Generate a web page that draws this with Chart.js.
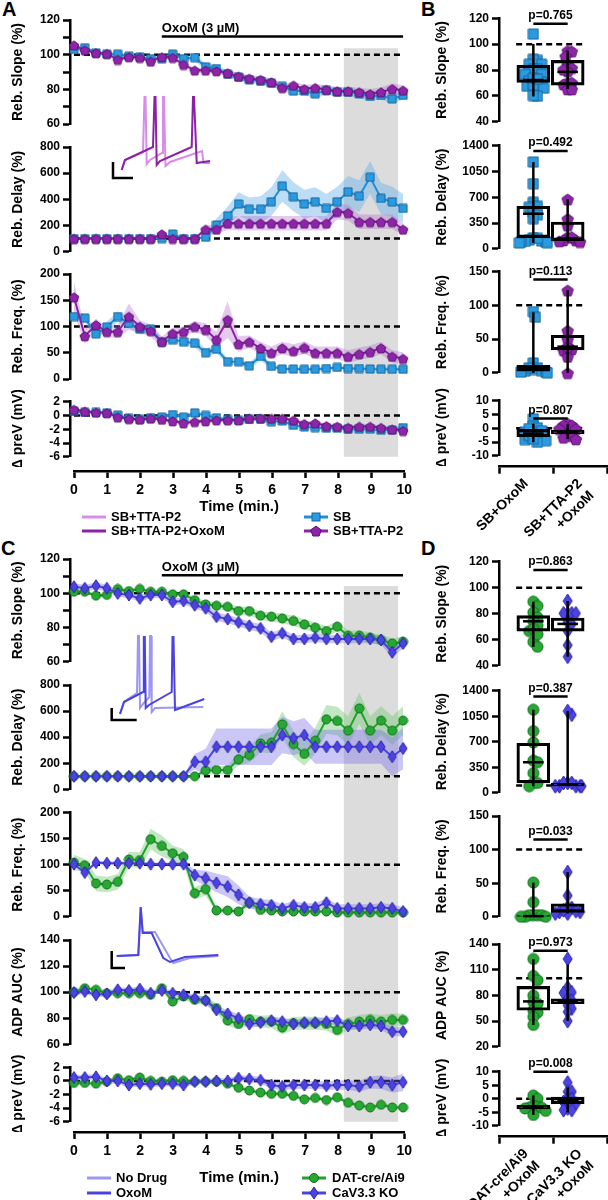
<!DOCTYPE html>
<html>
<head>
<meta charset="utf-8">
<script src="https://cdn.jsdelivr.net/npm/chart.js@4.4.1/dist/chart.umd.min.js"></script>
<style>
  html, body { margin: 0; padding: 0; background: #fff; }
  body { position: relative; width: 608px; height: 1200px; overflow: hidden;
         font-family: "Liberation Sans", Arial, sans-serif; font-weight: bold; color: #000; }
  canvas { position: absolute; }
  .tag { position: absolute; font-size: 20px; line-height: 20px; }
  .leg { position: absolute; font-size: 13px; line-height: 16px; white-space: nowrap; }
</style>
</head>
<body>
<div class="tag" style="left:2px;top:-1px">A</div>
<div class="tag" style="left:421px;top:-1px">B</div>
<div class="tag" style="left:1px;top:538px">C</div>
<div class="tag" style="left:421px;top:538px">D</div>
<script>
// time points (min)
const timeMin = [0,0.33,0.67,1,1.33,1.67,2,2.33,2.67,3,3.33,3.67,4,4.33,4.67,5,5.33,5.67,6,6.33,6.67,7,7.33,7.67,8,8.33,8.67,9,9.33,9.67,10];
const shadeRange = [8.2, 9.85];
const oxoStart = 2.67;

// panel A: SB vs SB+TTA-P2
const slopeSB = [103,104,101,100.3,100.3,99.1,98.7,97.7,97.7,100.3,97.7,98.3,93,92,88.7,87.1,85.6,84.8,83.6,81.7,79,79,77.4,79.4,78.4,78.4,77.4,75.9,76.5,74.5,76.5];
const slopeSBsem = [1.5,1.5,1.2,1.2,1.2,1.2,1.3,1.3,1.3,1.5,1.5,1.8,2,2,2,2,2,2.2,2.2,2.2,2.3,2.3,2.5,2.5,2.5,2.5,2.5,2.5,2.5,2.5,2.5];
const slopeTTA = [105.5,102.6,101,100.6,97.2,98.7,98.3,96.2,98.7,98.3,94.3,91,91,90.6,89.4,87.5,86.3,85.6,84.2,80.9,82.3,80.3,80.9,79.8,79,79,78.4,77.4,78.4,80.3,79.4];
const slopeTTAsem = [1.5,1.2,1,1,1.2,1.2,1.2,1.3,1.3,1.3,1.5,1.5,1.5,1.8,1.8,2,2,2,2,2.2,2.2,2.3,2.3,2.5,2.5,2.5,2.5,2.8,2.8,3,3];
const delaySB = [100,100,100,100,100,100,100,100,100,135,100,100,110,204,273,364,324,324,382,502,420,364,382,331,382,458,425,568,407,382,331];
const delaySBsem = [3,3,3,3,3,3,3,3,3,15,5,5,15,50,70,90,90,100,110,120,110,110,110,110,115,120,120,125,120,115,110];
const delayTTA = [100,100,100,100,100,100,100,100,135,100,100,100,171,171,217,217,217,217,217,217,217,217,217,217,306,298,229,229,229,229,171];
const delayTTAsem = [3,3,3,3,3,3,3,3,15,5,5,5,30,40,50,55,55,55,55,55,55,55,55,55,60,60,55,55,55,55,45];
const freqSB = [119,116,86,99,119,106,95,95,71,75,71,68,50,57,33,33,25,43,24,19,19,18.5,18.5,20,22,20,20,19,18.5,18.5,18.5];
const freqSBsem = [8,8,8,10,10,10,10,8,8,8,8,8,8,8,6,6,6,8,5,4,4,4,4,4,4,4,4,4,4,4,4];
const freqTTA = [156,82,103,90,90,119,100,92,71,87,90,100,94,75,113,67,71,59,50,59,54,60,50,50,50,43,48,52,59,43,39];
const freqTTAsem = [30,15,12,10,12,25,12,12,10,10,10,10,12,15,35,15,12,12,12,12,12,12,12,12,12,12,12,12,12,12,12];
const preVSB = [0.6,0.45,0.45,0.38,0.05,-0.43,-0.57,-0.33,-0.24,0.14,-0.24,0.38,0,-0.33,-0.57,-0.7,-0.57,-0.5,-0.9,-0.8,-1.43,-1.67,-1.76,-1.86,-1.86,-2,-2,-2,-2.14,-2.1,-1.76];
const preVSBsem = [0.3,0.3,0.3,0.3,0.3,0.3,0.3,0.3,0.3,0.3,0.3,0.3,0.3,0.3,0.3,0.3,0.3,0.3,0.3,0.3,0.35,0.35,0.35,0.35,0.35,0.35,0.35,0.4,0.4,0.4,0.4];
const preVTTA = [0.86,0.6,0.45,0.38,-0.24,-0.48,-0.57,-0.43,-0.57,-0.8,-1.1,-0.9,-0.8,-0.67,-0.67,-0.67,-0.43,-0.43,-0.43,-0.43,-0.7,-1.2,-1.1,-1.5,-1.6,-1.76,-1.6,-1.6,-1.76,-2,-2.2];
const preVTTAsem = [0.25,0.25,0.25,0.25,0.25,0.25,0.25,0.25,0.25,0.25,0.3,0.3,0.3,0.3,0.3,0.3,0.3,0.3,0.3,0.3,0.35,0.35,0.35,0.35,0.35,0.35,0.35,0.35,0.35,0.35,0.35];

// panel C: DAT-cre/Ai9 vs CaV3.3 KO
const slopeDAT = [100.9,100.9,98.6,99,102.5,101.3,102.5,100.9,100.9,99.4,99.4,96,93.5,92.7,92.1,89.6,89.6,86.9,86.3,85.3,83.8,81.8,79.9,77.9,80.5,75.2,75.2,74,72.7,70.7,71.7];
const slopeDATsem = [1,1,1,1,1.2,1.2,1.2,1.2,1.2,1.5,1.5,1.8,2,2,2.2,2.5,2.5,2.5,2.8,2.8,3,3,3,3,3,3,3,3,3,3,3];
const slopeKO = [103.8,102.9,104.4,102.9,99.9,99,97,99,99,95,95.5,93,91.2,86.3,84.9,83,81,79.5,74.6,76.6,73.3,73.3,74,73.3,73.3,73.3,73.3,73.3,72.7,65.5,70.7];
const slopeKOsem = [2,2,2,2,2,2,2,2,2,2,2,2,2.2,2.5,2.5,2.5,2.5,2.5,2.5,2.5,2.5,2.5,2.5,2.5,2.5,2.5,2.5,2.5,2.8,3,3];
const delayDAT = [100,100,100,100,100,100,100,100,100,100,100,100,143,148,148,230,263,352,358,498,347,271,373,537,524,450,621,450,527,450,527];
const delayDATsem = [2,2,2,2,2,2,2,2,2,2,2,5,20,30,30,50,60,70,80,100,100,90,100,110,110,110,120,110,110,110,110];
const delayKO = [100,100,100,100,100,100,100,100,100,100,100,211,211,326,326,326,326,326,326,416,391,416,326,326,326,326,326,326,326,250,313];
const delayKOsem = [2,2,2,2,2,2,2,2,2,2,2,60,100,140,140,140,140,140,140,140,130,130,130,130,130,130,130,130,130,150,160];
const freqDAT = [104,99,64,62,67,110,109,149,136,122,115,45,53,12,12,10,27,13,12,10,10,10,10,10,8,8,8,8,8,8,8];
const freqDATsem = [15,12,15,15,15,15,15,20,20,15,15,12,12,5,5,5,8,5,5,5,4,4,4,4,4,4,4,4,4,4,4];
const freqKO = [101,85,104,103,103,103,103,101,101,101,101,80,74,65,58,42,27,24,22,16,22,18,18,27,16,16,16,16,18,16,10];
const freqKOsem = [3,5,3,3,3,3,3,3,3,3,5,10,15,18,20,18,12,10,10,8,8,8,8,8,8,8,8,8,8,8,8];
const adpDAT = [100,103,101.8,99.2,99.2,99.2,99.2,98,103,92.8,96.7,94.1,93.6,87.7,78.2,75.6,79.2,77.4,77.4,72.8,76.2,76.2,76.2,75.6,71,75.6,77.4,78.7,77.4,78.7,78.7];
const adpDATsem = [2,2,2,2,2,2,2,2,2,2.5,2.5,3,3,3.5,4,4,4.5,4.5,5,5,5,5,5,5,5,5,5,5,5,5,5];
const adpKO = [99.7,100.5,98,98.7,101.8,101.3,102.3,99.2,101.3,99.2,98,95.4,93.6,86.4,83.3,80,75.6,76.7,78.2,77.4,75.6,76.7,76.7,77.4,78.2,74.1,74.1,74.9,74.1,69.7,69.7];
const adpKOsem = [2,2,2,2,2,2,2,2,2,2,2.5,2.5,3,3,3,3,3,3,3,3,3,3,3,3,3,3,3,3,3,3.5,3.5];
const preVDAT = [-0.3,-0.3,-0.4,-0.1,0.4,0.1,0.5,0,-0.1,0.1,0,-0.1,-0.1,-0.1,-0.4,-1,-1.4,-1.7,-1.9,-1.9,-2.2,-2.7,-2.5,-2.8,-2.4,-3.2,-3.6,-3.9,-3.5,-3.9,-3.9];
const preVDATsem = [0.3,0.3,0.3,0.3,0.3,0.3,0.3,0.3,0.3,0.3,0.3,0.3,0.3,0.3,0.3,0.3,0.3,0.3,0.3,0.3,0.3,0.3,0.3,0.3,0.3,0.3,0.3,0.3,0.3,0.3,0.3];
const preVKO = [0.5,0.5,0.6,0,0,-0.6,-0.4,-0.5,-0.4,-0.4,-0.6,-0.1,-0.1,0,0,0.4,0.3,0.1,-0.6,-0.8,-0.6,-0.6,-0.6,-0.7,-0.6,-0.6,-0.8,-0.2,-0.2,-0.6,-0.2];
const preVKOsem = [0.4,0.4,0.4,0.4,0.4,0.4,0.4,0.4,0.4,0.4,0.4,0.4,0.4,0.4,0.4,0.4,0.5,0.5,0.5,0.6,0.6,0.6,0.6,0.6,0.7,0.7,0.8,0.9,1,1.1,1.3];

// inset traces [ms, mV]
const traceTTA = [[167,-60],[200,-50],[380,-42],[395,13],[405,13],[417,-54],[450,-50],[570,-43],[580,13],[590,13],[605,-56],[650,-52],[970,-41],[985,-53],[1050,-53]];
const traceTTAOxo = [[167,-60],[200,-50],[480,-37],[495,13],[505,13],[517,-55],[550,-51],[867,-37],[880,13],[890,13],[917,-53],[1050,-51]];
const scaleBarA = [[80,-52],[80,-68],[280,-68]];
const traceNoDrug = [[150,-64],[190,-52],[320,-43],[330,14],[340,14],[350,-58],[380,-54],[443,-47],[450,14],[460,14],[467,-62],[500,-58],[983,-57]];
const traceOxoM = [[150,-64],[190,-52],[380,-42],[388,13],[398,13],[407,-58],[440,-55],[667,-42],[675,13],[685,13],[700,-60],[993,-49]];
const scaleBarC1 = [[67,-58],[67,-70],[317,-70]];
const adpNoDrug = [[117,-36],[333,-35],[357,13],[377,-12],[500,-12],[650,-38],[683,-43],[850,-38],[1133,-36]];
const adpOxoM = [[117,-36],[333,-35],[357,13],[377,-13],[467,-13],[583,-38],[650,-42],[800,-37],[1133,-35]];
const scaleBarC2 = [[67,-31],[67,-48],[200,-48]];

// panel B / D: per-cell values and [min, q1, median, q3, max]
const bSlopeSB = [107.8,87.5,88.3,84.4,84.4,80.6,80.6,79.4,76.8,76.8,70.5,71.7,67.4,67.9,68.4,65.9,59.8,60.3,73.5,73];
const bSlopeSBbox = [59.6,70.5,72.3,83.7,100.2];
const bSlopeTTA = [95.1,94.6,90.8,84.4,81.9,79.4,80.6,70.5,69.2,70.5,65.4,65.4];
const bSlopeTTAbox = [65.4,68.4,78.6,87.5,95.1];
const bDelaySB = [1178,884,631,578,564,498,462,409,150,120,107,100,95,90,85,80,140];
const bDelaySBbox = [80,151,476,578,1178];
const bDelayTTA = [675,320,409,164,120,120,164,107,98];
const bDelayTTAbox = [98,110,140,364,675];
const bFreqSB = [90.5,82.3,14.5,7.3,4.8,2.4,3.4,7.3,1.5,1,0];
const bFreqSBbox = [0,2.4,7.3,11,89.5];
const bFreqTTA = [122.4,62.9,49.8,33.9,35.3,24.2,0,38.7];
const bFreqTTAbox = [0,33.9,38.7,55.6,122.4];
const bPreVSB = [3.4,0.8,0.2,-1.5,-1.5,-2.7,-3.3,-4.1,-4.5,-5.1,-0.1,-2.7,-0.9,-3.9];
const bPreVSBbox = [-5.1,-3.1,-1.9,-0.4,1.6];
const bPreVTTA = [1.8,1.2,1.2,-0.1,-0.1,-2.1,-2.7,-3.9,-3.3];
const bPreVTTAbox = [-3.9,-2.1,-1.5,-0.7,1.4];
const dSlopeDAT = [89.3,86,81,77.2,74.2,70.9,66.7,68.4,58.4,54.6,64.2];
const dSlopeDATbox = [54.6,66.7,74.2,78.5,89.3];
const dSlopeKO = [89.8,80.3,80.3,80.3,80.3,73.5,72.2,66.7,55.8,47];
const dSlopeKObox = [47,66.7,72.2,76.7,89.8];
const dDelayDAT = [1139,846,689,441,419,270,135,90,135];
const dDelayDATbox = [90,135,419,680,1139];
const dDelayKO = [1070,1120,90,90,90,90,90,135,135,135];
const dDelayKObox = [90,95,110,130,1120];
const dFreqDAT = [51,21.8,2.4,2.4,2.4,2.4,0,0,0];
const dFreqDATbox = [0,0,1,2,51];
const dFreqKO = [66.5,31.6,13.1,14.6,7.3,7.3,4.9,4.9,8.3,9.7];
const dFreqKObox = [4.9,6.5,9,19.4,66.5];
const dAdpDAT = [122.5,102.7,97.7,79.8,72.2,62.7,60,55,45.5,70.3];
const dAdpDATbox = [45.5,62.7,73,90.5,122.5];
const dAdpKO = [122.5,89.3,83.6,82.9,76,74.1,68.4,64.6,60.8,50.1];
const dAdpKObox = [50.1,70.3,72.2,76,116];
const dPreVDAT = [1.2,0,-2.6,-3,-3.3,-3.6,-3.3,-4.5,-6];
const dPreVDATbox = [-6,-3.8,-3.2,-2.4,1.2];
const dPreVKO = [6,2.6,2.6,0.2,0,-1.2,-1.8,-3.6,-4.2,-4.2];
const dPreVKObox = [-5,-1.8,-0.8,0.6,4.2];

const bLabels = [['SB+OxoM'], ['SB+TTA-P2', '+OxoM']];
const dLabels = [['DAT-cre/Ai9', '+OxoM'], ['CaV3.3 KO', '+OxoM']];

const BLUE = '#1f8fd8', PURPLE = '#8b21a6', LPURPLE = '#d88ce9';
const GREEN = '#22a12d', INDIGO = '#4b42df', LINDIGO = '#9c97f3';
const FONT = '"Liberation Sans", Arial, sans-serif';

Chart.defaults.font.family = FONT;
Chart.defaults.font.weight = 'bold';
Chart.defaults.color = '#000';
Chart.defaults.animation = false;
Chart.defaults.responsive = false;
Chart.defaults.devicePixelRatio = 1;
Chart.defaults.events = [];
Chart.defaults.plugins.legend.display = false;
Chart.defaults.plugins.tooltip.enabled = false;

function markImg(kind, w, h, fill, edge) {
  const c = document.createElement('canvas');
  c.width = Math.ceil(w) + 2; c.height = Math.ceil(h) + 2;
  const g = c.getContext('2d');
  const cx = c.width / 2, cy = c.height / 2;
  g.beginPath();
  if (kind === 'square') g.rect(cx - w / 2, cy - h / 2, w, h);
  else if (kind === 'circle') g.arc(cx, cy, w / 2, 0, Math.PI * 2);
  else if (kind === 'diamond') {
    g.moveTo(cx, cy - h / 2); g.lineTo(cx + w / 2, cy); g.lineTo(cx, cy + h / 2); g.lineTo(cx - w / 2, cy); g.closePath();
  } else {
    for (let i = 0; i < 5; i++) {
      const a = -Math.PI / 2 + i * 2 * Math.PI / 5;
      const px = cx + w / 2 * Math.cos(a), py = cy + 0.08 * h + h / 2 * Math.sin(a);
      if (i) g.lineTo(px, py); else g.moveTo(px, py);
    }
    g.closePath();
  }
  g.fillStyle = fill; g.fill();
  g.lineWidth = 1; g.strokeStyle = edge; g.stroke();
  return c;
}

const mk = {
  sq: markImg('square', 8, 8, '#2a9be0', '#16649e'),
  pent: markImg('pentagon', 10, 10, '#8e24aa', '#5a0f70'),
  circ: markImg('circle', 9, 9, '#27a833', '#0f6e19'),
  dia: markImg('diamond', 8, 12, '#4c44e2', '#2a22a6'),
  sqB: markImg('square', 10, 10, '#2a9be0', '#16649e'),
  pentB: markImg('pentagon', 12, 12, '#8e24aa', '#5a0f70'),
  circB: markImg('circle', 11, 11, '#27a833', '#0f6e19'),
  diaB: markImg('diamond', 9, 14, '#4c44e2', '#2a22a6')
};

function place(left, top, w, h) {
  const c = document.createElement('canvas');
  c.width = w; c.height = h;
  c.style.left = left + 'px'; c.style.top = top + 'px';
  document.body.appendChild(c);
  return c;
}

function seg(pts, extra) {
  return Object.assign({ type: 'line', data: pts.map(p => ({ x: p[0], y: p[1] })), borderColor: '#000',
    borderWidth: 2.5, pointRadius: 0, fill: false, clip: false }, extra);
}

function yAxis(ax, width, titlePad) {
  return {
    min: ax.min, max: ax.max,
    afterFit: s => { s.width = width; },
    ticks: { stepSize: ax.step, autoSkip: false, font: { size: 12, weight: 'bold' }, color: '#000', padding: 3,
      callback: v => (ax.every && Math.abs(v % ax.every) > 1e-6) ? '' : String(v) },
    grid: { drawOnChartArea: false, tickLength: 7, tickWidth: 2.5, tickColor: '#000' },
    border: { color: '#000', width: 2.5 },
    title: { display: true, text: ax.title, font: { size: 14, weight: 'bold' }, color: '#000', padding: { top: titlePad, bottom: 0 } }
  };
}

function notes(list) {
  return { id: 'notes', afterDatasetsDraw(chart) {
    const { ctx, scales } = chart;
    ctx.save();
    ctx.fillStyle = '#000';
    ctx.textBaseline = 'alphabetic';
    list.forEach(n => {
      ctx.font = 'bold ' + n.size + 'px ' + FONT;
      ctx.textAlign = n.align;
      ctx.fillText(n.text, scales.x.getPixelForValue(n.x), scales.y.getPixelForValue(n.y) - n.dy);
    });
    ctx.restore();
  }};
}

function shade(fromY, toY) {
  return { id: 'shade', beforeDatasetsDraw(chart) {
    const { ctx, scales: { x, y } } = chart;
    const x0 = x.getPixelForValue(shadeRange[0]), x1 = x.getPixelForValue(shadeRange[1]);
    const y0 = fromY == null ? 0 : y.getPixelForValue(fromY);
    const y1 = toY == null ? chart.height : y.getPixelForValue(toY);
    ctx.save(); ctx.fillStyle = '#dcdcdc'; ctx.fillRect(x0, y0, x1 - x0, y1 - y0); ctx.restore();
  }};
}

const TL = 70, TR = 409.25, TW = 414;

function timeChart(o) {
  const top = Math.floor(o.cTop), h = Math.ceil(o.cBottom) - top;
  const cv = place(0, top, TW, h);
  const ds = [seg([[0, o.ref], [10, o.ref]], { borderDash: [6, 4], order: 40 })];
  o.series.forEach((s, k) => {
    ds.push({ type: 'line', data: timeMin.map((t, i) => ({ x: t, y: s.mean[i] + s.sem[i] })), borderWidth: 0,
      borderColor: 'rgba(0,0,0,0)', pointRadius: 0, fill: '+1', backgroundColor: s.band, order: 30 - k });
    ds.push({ type: 'line', data: timeMin.map((t, i) => ({ x: t, y: s.mean[i] - s.sem[i] })), borderWidth: 0,
      borderColor: 'rgba(0,0,0,0)', pointRadius: 0, fill: false, order: 30 - k });
  });
  o.series.forEach((s, k) => {
    ds.push({ type: 'line', data: timeMin.map((t, i) => ({ x: t, y: s.mean[i] })), borderColor: s.color, borderWidth: 2,
      pointStyle: s.img, pointRadius: 4, fill: false, clip: false, order: 10 - k });
  });
  const list = [];
  if (o.oxoY != null) {
    ds.push(seg([[oxoStart, o.oxoY], [10, o.oxoY]], { order: 0 }));
    list.push({ x: oxoStart, y: o.oxoY, text: 'OxoM (3 µM)', align: 'left', dy: 4, size: 13 });
  }
  new Chart(cv, {
    type: 'line',
    data: { datasets: ds },
    options: {
      layout: { padding: { left: 0, right: TW - TR, top: o.top - top, bottom: top + h - o.bottom } },
      scales: { x: { type: 'linear', min: -0.12, max: 10.15, display: false }, y: yAxis(o.y, TL, 10) }
    },
    plugins: [shade(o.shadeTop, o.shadeBottom), notes(list)]
  });
}

function swarm(vals, ppu, size, c) {
  const placed = [], out = [];
  const idx = vals.map((v, i) => i).sort((a, b) => vals[b] - vals[a]);
  idx.forEach(i => {
    const py = vals[i] * ppu;
    let off = 0;
    for (let k = 0; k < 20; k++) {
      off = (k % 2 ? 1 : -1) * Math.ceil(k / 2) * size / 2;
      if (placed.every(p => Math.hypot(p.x - off, p.y - py) >= size)) break;
    }
    off = Math.max(-22, Math.min(22, off));
    placed.push({ x: off, y: py });
    out[i] = { x: c + off / 54, y: vals[i] };
  });
  return out;
}

function boxChart(o) {
  const top = Math.floor(o.top - 19), h = Math.ceil(o.bottom + 8) - top;
  const cv = place(420, top, 188, h);
  const ppu = (o.bottom - o.top) / (o.y.max - o.y.min);
  const ds = [seg([[0, o.ref], [2, o.ref]], { borderDash: [6, 4], order: 40 })];
  o.groups.forEach((g, k) => {
    const c = k + 0.5;
    const [lo, q1, med, q3, hi] = g.box;
    ds.push({ type: 'scatter', data: swarm(g.vals, ppu, 6.5, c), pointStyle: g.img, pointRadius: 5, clip: false, order: 20 });
    ds.push({ type: 'bar', data: [{ x: c, y: [q1, q3] }], barThickness: 33, grouped: false, backgroundColor: 'rgba(0,0,0,0)',
      borderColor: '#000', borderWidth: 2.5, borderSkipped: false, order: 5 });
    ds.push(seg([[c, lo], [c, hi]], { order: 4 }));
    ds.push(seg([[c - 0.3, med], [c + 0.3, med]], { order: 4 }));
  });
  ds.push(seg([[0.5, o.p[1]], [1.5, o.p[1]]], { order: 1 }));
  new Chart(cv, {
    type: 'scatter',
    data: { datasets: ds },
    options: {
      layout: { padding: { left: 0, right: 1, top: o.top - top, bottom: top + h - o.bottom } },
      scales: { x: { type: 'linear', min: 0, max: 2, display: false }, y: yAxis(o.y, 79, 13.6) }
    },
    plugins: [notes([{ x: 1, y: o.p[1], text: o.p[0], align: 'center', dy: 4.5, size: 12 }])]
  });
}

function timeAxis(lineY, H) {
  const top = Math.floor(lineY - 6), h = Math.ceil(lineY + H + 2) - top;
  const cv = place(60, top, 360, h);
  new Chart(cv, {
    type: 'line',
    data: { datasets: [] },
    options: {
      layout: { padding: { left: 14, right: 420 - 404.3, top: lineY - 1 - top, bottom: top + h - lineY - H } },
      scales: {
        x: { type: 'linear', min: 0, max: 10, afterFit: s => { s.height = H; },
          ticks: { stepSize: 1, autoSkip: false, maxRotation: 0, font: { size: 14, weight: 'bold' }, color: '#000', padding: 4 },
          grid: { drawOnChartArea: false, tickLength: 7, tickWidth: 2.5, tickColor: '#000' },
          border: { color: '#000', width: 2.5 },
          title: { display: true, text: 'Time (min.)', font: { size: 15, weight: 'bold' }, color: '#000', padding: { top: 0, bottom: 0 } } },
        y: { display: false }
      }
    }
  });
}

function catAxis(lineY, labels) {
  const top = Math.floor(lineY - 6), h = 90;
  const cv = place(420, top, 188, h);
  new Chart(cv, {
    type: 'line',
    data: { labels: labels, datasets: [] },
    options: {
      layout: { padding: { left: 79, right: 1, top: lineY - 1 - top, bottom: top + h - lineY - 80 } },
      scales: {
        x: { type: 'category', offset: true, afterFit: s => { s.height = 80; },
          ticks: { autoSkip: false, minRotation: 45, maxRotation: 45, font: { size: 14, weight: 'bold' }, color: '#000', padding: 2 },
          grid: { offset: true, drawOnChartArea: false, tickLength: 7, tickWidth: 2.5, tickColor: '#000' },
          border: { color: '#000', width: 2.5 } },
        y: { display: false }
      }
    }
  });
}

function inset(left, top, w, h, xr, yr, traces) {
  const cv = place(left, top, w, h);
  new Chart(cv, {
    type: 'line',
    data: { datasets: traces.map((t, k) => seg(t.pts, { borderColor: t.color, borderWidth: t.w, order: traces.length - k })) },
    options: {
      layout: { padding: 0 },
      scales: { x: { type: 'linear', min: xr[0], max: xr[1], display: false }, y: { min: yr[0], max: yr[1], display: false } }
    }
  });
}

function svgMark(kind, fill, edge) {
  if (kind === 'square') return `<rect x="8" y="4" width="8" height="8" fill="${fill}" stroke="${edge}"/>`;
  if (kind === 'circle') return `<circle cx="12" cy="8" r="4.5" fill="${fill}" stroke="${edge}"/>`;
  if (kind === 'diamond') return `<polygon points="12,2 16,8 12,14 8,8" fill="${fill}" stroke="${edge}"/>`;
  if (kind === 'pentagon') {
    const pts = [];
    for (let i = 0; i < 5; i++) {
      const a = -Math.PI / 2 + i * 2 * Math.PI / 5;
      pts.push((12 + 5.5 * Math.cos(a)).toFixed(1) + ',' + (8.6 + 5.5 * Math.sin(a)).toFixed(1));
    }
    return `<polygon points="${pts.join(' ')}" fill="${fill}" stroke="${edge}"/>`;
  }
  return '';
}

function legendItem(sx, tx, y, text, color, mark) {
  const d = document.createElement('div');
  d.className = 'leg';
  d.style.left = sx + 'px'; d.style.top = (y - 8) + 'px';
  d.innerHTML = `<svg width="24" height="16" style="position:absolute;left:0;top:0"><line x1="0" y1="8" x2="24" y2="8" stroke="${color}" stroke-width="3"/>${mark || ''}</svg>` +
    `<span style="position:absolute;left:${tx - sx}px;top:0">${text}</span>`;
  document.body.appendChild(d);
}

// ---- panel A
const serA = (m, s, m2, s2) => [
  { mean: m, sem: s, color: BLUE, band: 'rgba(95,175,232,0.42)', img: mk.sq },
  { mean: m2, sem: s2, color: PURPLE, band: 'rgba(178,105,205,0.35)', img: mk.pent }
];
timeChart({ top: 20, bottom: 124, cTop: 0, cBottom: 135.5, ref: 100, oxoY: 110.5, shadeTop: 103.7,
  y: { min: 60, max: 120, step: 10, every: 20, title: 'Reb. Slope (%)' }, series: serA(slopeSB, slopeSBsem, slopeTTA, slopeTTAsem) });
timeChart({ top: 147, bottom: 251.7, cTop: 135.5, cBottom: 262.85, ref: 100,
  y: { min: 0, max: 800, step: 200, title: 'Reb. Delay (%)' }, series: serA(delaySB, delaySBsem, delayTTA, delayTTAsem) });
timeChart({ top: 274, bottom: 379, cTop: 262.85, cBottom: 390.35, ref: 100,
  y: { min: 0, max: 200, step: 50, title: 'Reb. Freq. (%)' }, series: serA(freqSB, freqSBsem, freqTTA, freqTTAsem) });
timeChart({ top: 401.7, bottom: 458.3, cTop: 390.35, cBottom: 466.3, ref: 0, shadeBottom: -6,
  y: { min: -6, max: 2, step: 2, title: 'Δ preV (mV)' }, series: serA(preVSB, preVSBsem, preVTTA, preVTTAsem) });
inset(105, 90, 110, 95, [0, 1100], [-75, 20], [
  { pts: traceTTA, color: LPURPLE, w: 2 },
  { pts: traceTTAOxo, color: PURPLE, w: 2 },
  { pts: scaleBarA, color: '#000', w: 2.5 }
]);
timeAxis(471, 45.3);

// ---- panel C
const serC = (m, s, m2, s2) => [
  { mean: m, sem: s, color: GREEN, band: 'rgba(110,200,110,0.42)', img: mk.circ },
  { mean: m2, sem: s2, color: INDIGO, band: 'rgba(115,105,232,0.38)', img: mk.dia }
];
timeChart({ top: 559, bottom: 661.7, cTop: 545, cBottom: 673.35, ref: 100, oxoY: 110.5, shadeTop: 104.2,
  y: { min: 60, max: 120, step: 10, every: 20, title: 'Reb. Slope (%)' }, series: serC(slopeDAT, slopeDATsem, slopeKO, slopeKOsem) });
timeChart({ top: 685, bottom: 789.3, cTop: 673.35, cBottom: 801, ref: 100,
  y: { min: 0, max: 800, step: 200, title: 'Reb. Delay (%)' }, series: serC(delayDAT, delayDATsem, delayKO, delayKOsem) });
timeChart({ top: 812.7, bottom: 916.7, cTop: 801, cBottom: 928.35, ref: 100,
  y: { min: 0, max: 200, step: 50, title: 'Reb. Freq. (%)' }, series: serC(freqDAT, freqDATsem, freqKO, freqKOsem) });
timeChart({ top: 940, bottom: 1044.3, cTop: 928.35, cBottom: 1055.8, ref: 100,
  y: { min: 60, max: 140, step: 20, title: 'ADP AUC (%)' }, series: serC(adpDAT, adpDATsem, adpKO, adpKOsem) });
timeChart({ top: 1067.3, bottom: 1124, cTop: 1055.8, cBottom: 1132, ref: 0, shadeBottom: -6,
  y: { min: -6, max: 2, step: 2, title: 'Δ preV (mV)' }, series: serC(preVDAT, preVDATsem, preVKO, preVKOsem) });
inset(105, 630, 110, 95, [0, 1100], [-75, 20], [
  { pts: traceNoDrug, color: LINDIGO, w: 2 },
  { pts: traceOxoM, color: INDIGO, w: 2 },
  { pts: scaleBarC1, color: '#000', w: 2.5 }
]);
inset(105, 900, 120, 75, [0, 1200], [-55, 20], [
  { pts: adpNoDrug, color: LINDIGO, w: 2 },
  { pts: adpOxoM, color: INDIGO, w: 2 },
  { pts: scaleBarC2, color: '#000', w: 2.5 }
]);
timeAxis(1132, 55);

// ---- panels B and D
const grpB = (v1, b1, v2, b2) => [{ vals: v1, box: b1, img: mk.sqB }, { vals: v2, box: b2, img: mk.pentB }];
const grpD = (v1, b1, v2, b2) => [{ vals: v1, box: b1, img: mk.circB }, { vals: v2, box: b2, img: mk.diaB }];
boxChart({ top: 18.3, bottom: 123.3, ref: 100, p: ['p=0.765', 115.7], y: { min: 40, max: 120, step: 20, title: 'Reb. Slope (%)' },
  groups: grpB(bSlopeSB, bSlopeSBbox, bSlopeTTA, bSlopeTTAbox) });
boxChart({ top: 145.7, bottom: 250.7, ref: 100, p: ['p=0.492', 1329], y: { min: 0, max: 1400, step: 350, title: 'Reb. Delay (%)' },
  groups: grpB(bDelaySB, bDelaySBbox, bDelayTTA, bDelayTTAbox) });
boxChart({ top: 271.5, bottom: 375, ref: 100, p: ['p=0.113', 138], y: { min: 0, max: 150, step: 50, title: 'Reb. Freq. (%)' },
  groups: grpB(bFreqSB, bFreqSBbox, bFreqTTA, bFreqTTAbox) });
boxChart({ top: 400.7, bottom: 457.3, ref: 0, p: ['p=0.807', 3.5], y: { min: -10, max: 10, step: 5, title: 'Δ preV (mV)' },
  groups: grpB(bPreVSB, bPreVSBbox, bPreVTTA, bPreVTTAbox) });
catAxis(466.7, bLabels);

boxChart({ top: 561.7, bottom: 667.7, ref: 100, p: ['p=0.863', 113.7], y: { min: 40, max: 120, step: 20, title: 'Reb. Slope (%)' },
  groups: grpD(dSlopeDAT, dSlopeDATbox, dSlopeKO, dSlopeKObox) });
boxChart({ top: 690.7, bottom: 794.3, ref: 100, p: ['p=0.387', 1319], y: { min: 0, max: 1400, step: 350, title: 'Reb. Delay (%)' },
  groups: grpD(dDelayDAT, dDelayDATbox, dDelayKO, dDelayKObox) });
boxChart({ top: 816, bottom: 918.3, ref: 100, p: ['p=0.033', 115], y: { min: 0, max: 150, step: 50, title: 'Reb. Freq. (%)' },
  groups: grpD(dFreqDAT, dFreqDATbox, dFreqKO, dFreqKObox) });
boxChart({ top: 944, bottom: 1049, ref: 100, p: ['p=0.973', 132], y: { min: 20, max: 140, step: 30, title: 'ADP AUC (%)' },
  groups: grpD(dAdpDAT, dAdpDATbox, dAdpKO, dAdpKObox) });
boxChart({ top: 1071.7, bottom: 1127.7, ref: 0, p: ['p=0.008', 10], y: { min: -10, max: 10, step: 5, title: 'Δ preV (mV)' },
  groups: grpD(dPreVDAT, dPreVDATbox, dPreVKO, dPreVKObox) });
catAxis(1136.7, dLabels);

// legends
legendItem(82, 111, 517.3, 'SB+TTA-P2', LPURPLE);
legendItem(82, 111, 531, 'SB+TTA-P2+OxoM', PURPLE);
legendItem(304, 333, 517.3, 'SB', BLUE, svgMark('square', '#2a9be0', '#16649e'));
legendItem(304, 333, 531, 'SB+TTA-P2', PURPLE, svgMark('pentagon', '#8e24aa', '#5a0f70'));
legendItem(87, 116, 1178, 'No Drug', LINDIGO);
legendItem(87, 116, 1192.7, 'OxoM', INDIGO);
legendItem(302, 332, 1178, 'DAT-cre/Ai9', GREEN, svgMark('circle', '#27a833', '#0f6e19'));
legendItem(302, 332, 1192.7, 'CaV3.3 KO', INDIGO, svgMark('diamond', '#4c44e2', '#2a22a6'));
</script>
</body>
</html>
